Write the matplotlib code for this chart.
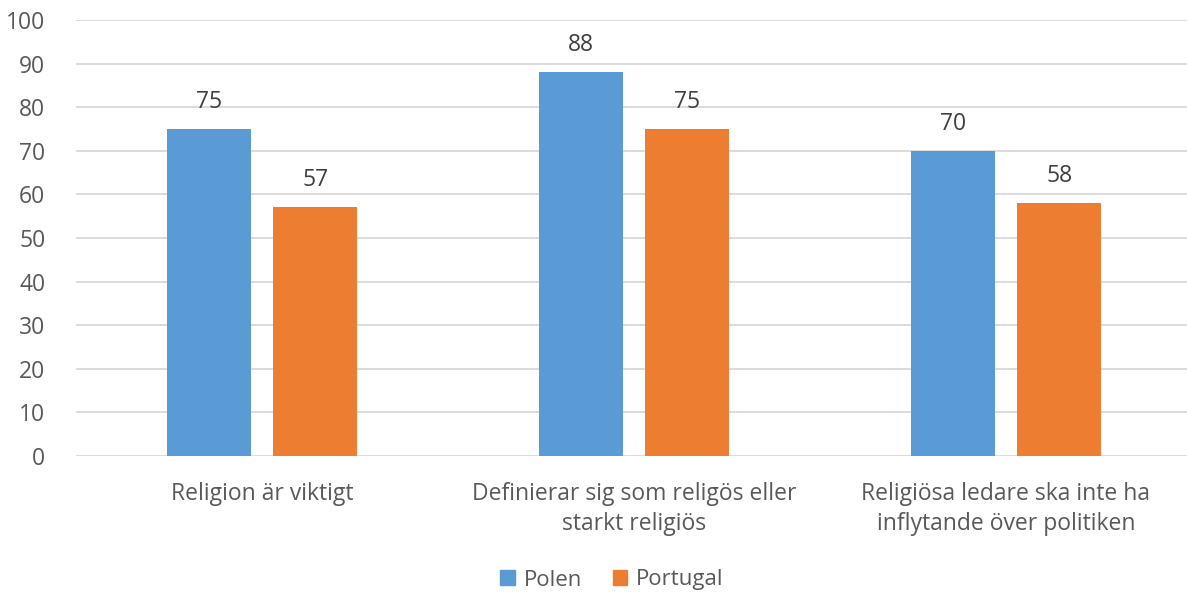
import matplotlib
matplotlib.use("Agg")
import matplotlib.pyplot as plt
import numpy as np

categories = ["Religion är viktigt",
              "Definierar sig som religös eller\nstarkt religiös",
              "Religiösa ledare ska inte ha\ninflytande över politiken"]
series_names = ["Polen", "Portugal"]
polen = [75, 88, 70]
portugal = [57, 75, 58]
yticks = [0, 10, 20, 30, 40, 50, 60, 70, 80, 90, 100]

colors = ["#5B9BD5", "#ED7D31"]
txt = "#595959"
plt.rcParams['font.family'] = ['Open Sans', 'DejaVu Sans']

fig = plt.figure(figsize=(11.87, 5.97), dpi=100)
W, H = 1187, 597
ax = fig.add_axes([76 / W, 1 - 456 / H, 1116 / W, (456 - 20) / H])

x = np.arange(len(categories))
bw = 0.226
off = 0.143
for vals, dx, c in [(polen, -off, colors[0]), (portugal, off, colors[1])]:
    bars = ax.bar(x + dx, vals, width=bw, color=c, zorder=3)
    for b, v in zip(bars, vals):
        ax.annotate(str(v), (b.get_x() + b.get_width() / 2, v),
                    xytext=(0, 11), textcoords="offset points",
                    ha="center", va="bottom", fontsize=16.5, color="#404040")

ax.set_xlim(-0.5, len(categories) - 0.5)
ax.set_ylim(0, 100)
ax.set_yticks(yticks)
ax.set_yticklabels([str(t) for t in yticks], fontsize=16.5, color=txt)
ax.set_xticks(x)
ax.set_xticklabels(categories, fontsize=16.5, color=txt, linespacing=1.3)
ax.tick_params(axis="both", length=0)
ax.tick_params(axis="y", pad=22)
ax.tick_params(axis="x", pad=19)
ax.grid(axis="y", color="#D9D9D9", linewidth=1.3, zorder=0)
for s in ax.spines.values():
    s.set_visible(False)

handles = [plt.Rectangle((0, 0), 1, 1, color=c) for c in colors]
fig.legend(handles, series_names, loc="center", bbox_to_anchor=(612 / W, 1 - 580 / H),
           ncol=2, frameon=False, fontsize=16, handlelength=0.65, handleheight=0.65,
           handletextpad=0.4, columnspacing=1.4, labelcolor=txt)

fig.savefig("out.png", dpi=100)
